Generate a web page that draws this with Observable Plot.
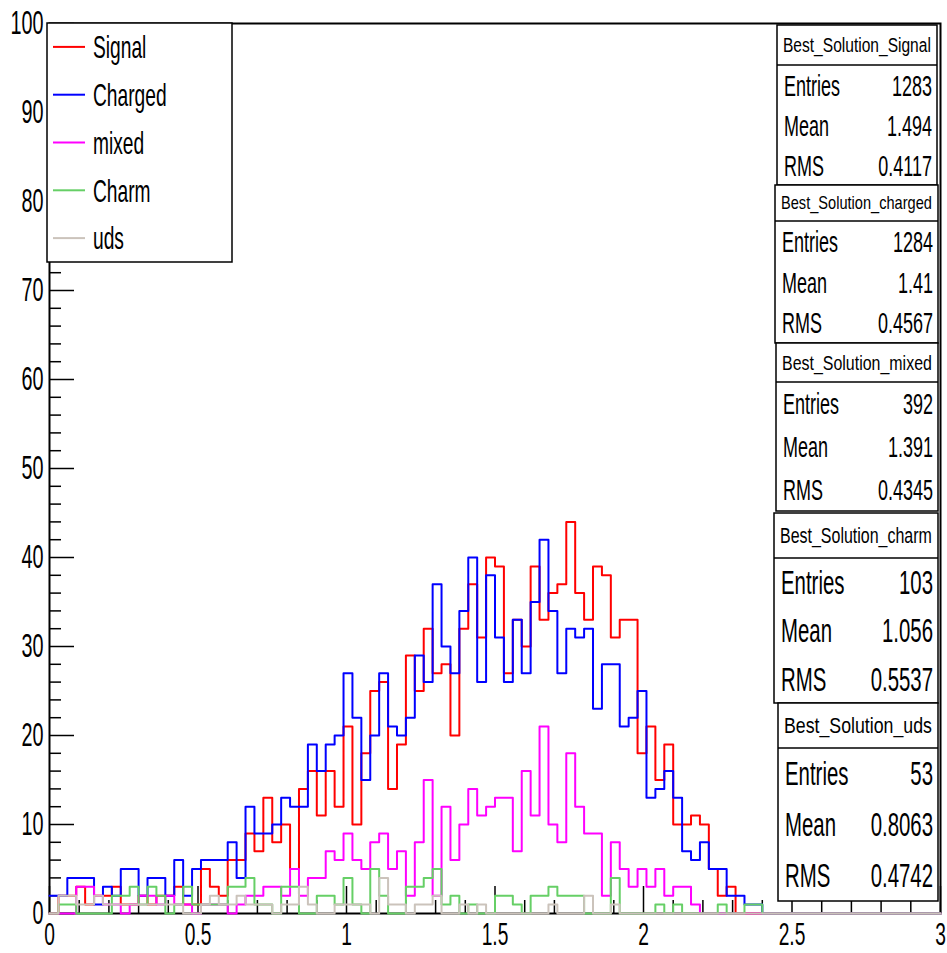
<!DOCTYPE html>
<html>
<head>
<meta charset="utf-8">
<script src="https://cdn.jsdelivr.net/npm/d3@7"></script>
<script src="https://cdn.jsdelivr.net/npm/@observablehq/plot@0.6"></script>
<style>
  html, body { margin: 0; padding: 0; background: #fff; }
  svg { display: block; }
</style>
</head>
<body>
<div id="chart"></div>
<script>
// ---------- binning ----------
const nBins = 100;
const xMin = 0;
const xMax = 3;

// ---------- histogram contents (bin 0 = [0, 0.03) ...) ----------
const signal = [0,2,2,3,1,2,2,3,1,1, 2,1,2,2,3,1,1,5,3,2, 6,6,9,7,13,8,10,5,14,16,
  11,16,12,21,10,18,25,26,14,19, 29,25,32,27,28,20,32,37,31,40, 39,27,33,30,39,33,36,37,44,36,
  33,39,38,31,33,33,18,21,15,19, 10,10,11,10,5,2,3];
const charged = [2,2,4,4,4,1,3,2,5,5, 2,4,4,2,6,2,5,6,6,6, 8,4,12,9,9,10,13,12,12,19,
  16,19,20,27,22,15,20,27,21,20, 22,29,26,37,30,27,34,40,26,38, 31,26,33,27,35,42,34,27,32,31,
  32,23,28,28,21,22,25,13,14,16, 13,7,6,8,5,5,2,2,1,1];
const mixed = [0,0,0,3,3,2,1,1,0,1, 2,2,1,2,1,1,0,1,1,1, 0,1,2,2,3,3,2,5,2,4,
  4,7,6,9,6,5,8,9,5,7, 2,8,15,2,12,6,10,14,11,12, 13,13,7,16,11,21,10,8,18,12,
  9,9,2,8,5,3,5,3,5,2, 3,3,1];
const charm = [0,1,1,0,0,0,0,2,2,3, 1,3,2,0,1,3,1,1,1,1, 3,3,4,1,1,0,3,3,0,0,
  2,2,1,4,1,0,5,2,0,0, 3,3,4,5,1,2,0,1,0,0, 2,2,1,0,2,2,3,2,2,2,
  0,0,0,4,0,0,0,0,1,0, 1,0,0,0,0,1,0,0,1,1];
const uds = [0,2,2,1,1,2,1,1,1,1, 1,1,1,1,1,0,0,1,2,1, 1,2,1,1,1,0,1,1,3,1,
  0,0,1,1,1,1,0,4,1,1, 0,1,1,2,0,0,1,0,1,0, 0,0,0,0,0,0,1,0,0,0,
  2,0,0,1];

// ---------- legend / stats text ----------
const legendLabels = ["Signal", "Charged", "mixed", "Charm", "uds"];
const seriesColors = ["#ff0000", "#0000ff", "#ff00ff", "#66cf66", "#cbc3bb"];
const statNames = ["Best_Solution_Signal", "Best_Solution_charged", "Best_Solution_mixed", "Best_Solution_charm", "Best_Solution_uds"];
const statEntries = ["1283", "1284", "392", "103", "53"];
const statMeans = ["1.494", "1.41", "1.391", "1.056", "0.8063"];
const statRMS = ["0.4117", "0.4567", "0.4345", "0.5537", "0.4742"];

// ---------- axis ticks ----------
const xMajor = [0, 0.5, 1, 1.5, 2, 2.5, 3];
const xMinor = d3.range(0, 31).map(i => i / 10).filter(v => Math.abs(v * 2 - Math.round(v * 2)) > 1e-9);
const yMajor = [0, 10, 20, 30, 40, 50, 60, 70, 80, 90, 100];
const yMinor = d3.range(0, 101, 2).filter(v => v % 10 !== 0);

// ---------- layout ----------
const W = 947, H = 953;
const mTop = 23, mRight = 7, mBottom = 40, mLeft = 49;
const plotW = W - mLeft - mRight;
const plotH = H - mTop - mBottom;
const textSX = 0.6;
const FONT = "'Liberation Sans', Arial, Helvetica, sans-serif";

const binW = (xMax - xMin) / nBins;
function stepData(values) {
  const full = d3.range(nBins).map(i => (i < values.length ? values[i] : 0));
  const pts = full.map((v, i) => ({x: xMin + i * binW, y: v}));
  pts.push({x: xMax, y: full[nBins - 1]});
  return pts;
}

const series = [signal, charged, mixed, charm, uds];

const svg = Plot.plot({
  width: W,
  height: H,
  marginTop: mTop, marginRight: mRight, marginBottom: mBottom, marginLeft: mLeft,
  style: {fontFamily: FONT, fontSize: "33px", background: "white", overflow: "visible", color: "black"},
  x: {domain: [xMin, xMax]},
  y: {domain: [0, 100]},
  marks: [
    Plot.ruleY(yMinor, {stroke: "black", strokeWidth: 1.5, insetRight: plotW - 12}),
    Plot.ruleY(yMajor, {stroke: "black", strokeWidth: 1.5, insetRight: plotW - 25}),
    Plot.ruleX(xMinor, {stroke: "black", strokeWidth: 1.5, insetTop: plotH - 13}),
    Plot.ruleX(xMajor, {stroke: "black", strokeWidth: 1.5, insetTop: plotH - 27}),
    Plot.frame({stroke: "black", strokeWidth: 2}),
    Plot.axisY(yMajor, {tickSize: 0, tickPadding: 6, tickFormat: d => String(d), fontSize: 33, label: null}),
    Plot.axisX(xMajor, {tickSize: 0, tickPadding: 9, tickFormat: d => String(d), fontSize: 32, label: null}),
    ...series.map((vals, k) =>
      Plot.line(stepData(vals), {x: "x", y: "y", curve: "step-after", stroke: seriesColors[k], strokeWidth: 2})
    )
  ]
});

// condense axis labels horizontally (reference text is tall and narrow)
svg.querySelectorAll("text").forEach(t => {
  const tr = t.getAttribute("transform") || "";
  t.setAttribute("transform", tr + ` scale(${textSX},1)`);
});

document.getElementById("chart").appendChild(svg);

// ---------- legend ----------
const root = d3.select(svg);
const leg = {x: 47, y: 23, w: 185, h: 239, lineX0: 53, lineX1: 85, textX: 93, font: 32};
const gLeg = root.append("g").attr("text-anchor", "start");
gLeg.append("rect").attr("x", leg.x).attr("y", leg.y).attr("width", leg.w).attr("height", leg.h)
  .attr("fill", "white").attr("stroke", "black").attr("stroke-width", 1.5);
legendLabels.forEach((lab, i) => {
  const cy = leg.y + (i + 0.5) * leg.h / legendLabels.length;
  gLeg.append("line").attr("x1", leg.lineX0).attr("x2", leg.lineX1).attr("y1", cy).attr("y2", cy)
    .attr("stroke", seriesColors[i]).attr("stroke-width", 2);
  gLeg.append("text").attr("transform", `translate(${leg.textX},${cy}) scale(${textSX},1)`)
    .attr("text-anchor", "start")
    .attr("dy", "0.35em").attr("font-family", FONT).attr("font-size", leg.font).attr("fill", "black").text(lab);
});

// ---------- stats boxes ----------
const boxes = [
  {x0: 777, x1: 937, y0: 25, ySep: 65, y1: 185, font: 30, tFont: 21},
  {x0: 775, x1: 938, y0: 185, ySep: 221, y1: 343, font: 30, tFont: 18},
  {x0: 776, x1: 938, y0: 343, ySep: 382, y1: 511, font: 30, tFont: 21},
  {x0: 774, x1: 938, y0: 513, ySep: 558, y1: 703, font: 34, tFont: 22},
  {x0: 778, x1: 938, y0: 703, ySep: 748, y1: 901, font: 34, tFont: 22}
];
boxes.forEach((b, k) => {
  const g = root.append("g").attr("text-anchor", "start");
  g.append("rect").attr("x", b.x0).attr("y", b.y0).attr("width", b.x1 - b.x0).attr("height", b.y1 - b.y0)
    .attr("fill", "white").attr("stroke", "black").attr("stroke-width", 1.5);
  g.append("line").attr("x1", b.x0).attr("x2", b.x1).attr("y1", b.ySep).attr("y2", b.ySep)
    .attr("stroke", "black").attr("stroke-width", 1.5);
  // title: measured, then condensed to fit the box width
  const title = g.append("text")
    .attr("text-anchor", "start").attr("dy", "0.35em")
    .attr("font-family", FONT).attr("font-size", b.tFont)
    .text(statNames[k]);
  const natural = title.node().getComputedTextLength() || 1;
  const tsx = (b.x1 - b.x0 - 12) / natural;
  title.attr("transform", `translate(${b.x0 + 6},${(b.y0 + b.ySep) / 2}) scale(${tsx},1)`);
  const rows = [["Entries", statEntries[k]], ["Mean", statMeans[k]], ["RMS", statRMS[k]]];
  const rh = (b.y1 - b.ySep) / 3;
  rows.forEach(([lab, val], r) => {
    const cy = b.ySep + (r + 0.5) * rh;
    g.append("text").attr("transform", `translate(${b.x0 + 7},${cy}) scale(${textSX},1)`)
      .attr("text-anchor", "start")
      .attr("dy", "0.35em").attr("font-family", FONT).attr("font-size", b.font).text(lab);
    g.append("text").attr("transform", `translate(${b.x1 - 5},${cy}) scale(${textSX},1)`)
      .attr("dy", "0.35em").attr("text-anchor", "end").attr("font-family", FONT).attr("font-size", b.font).text(val);
  });
});
</script>
</body>
</html>
